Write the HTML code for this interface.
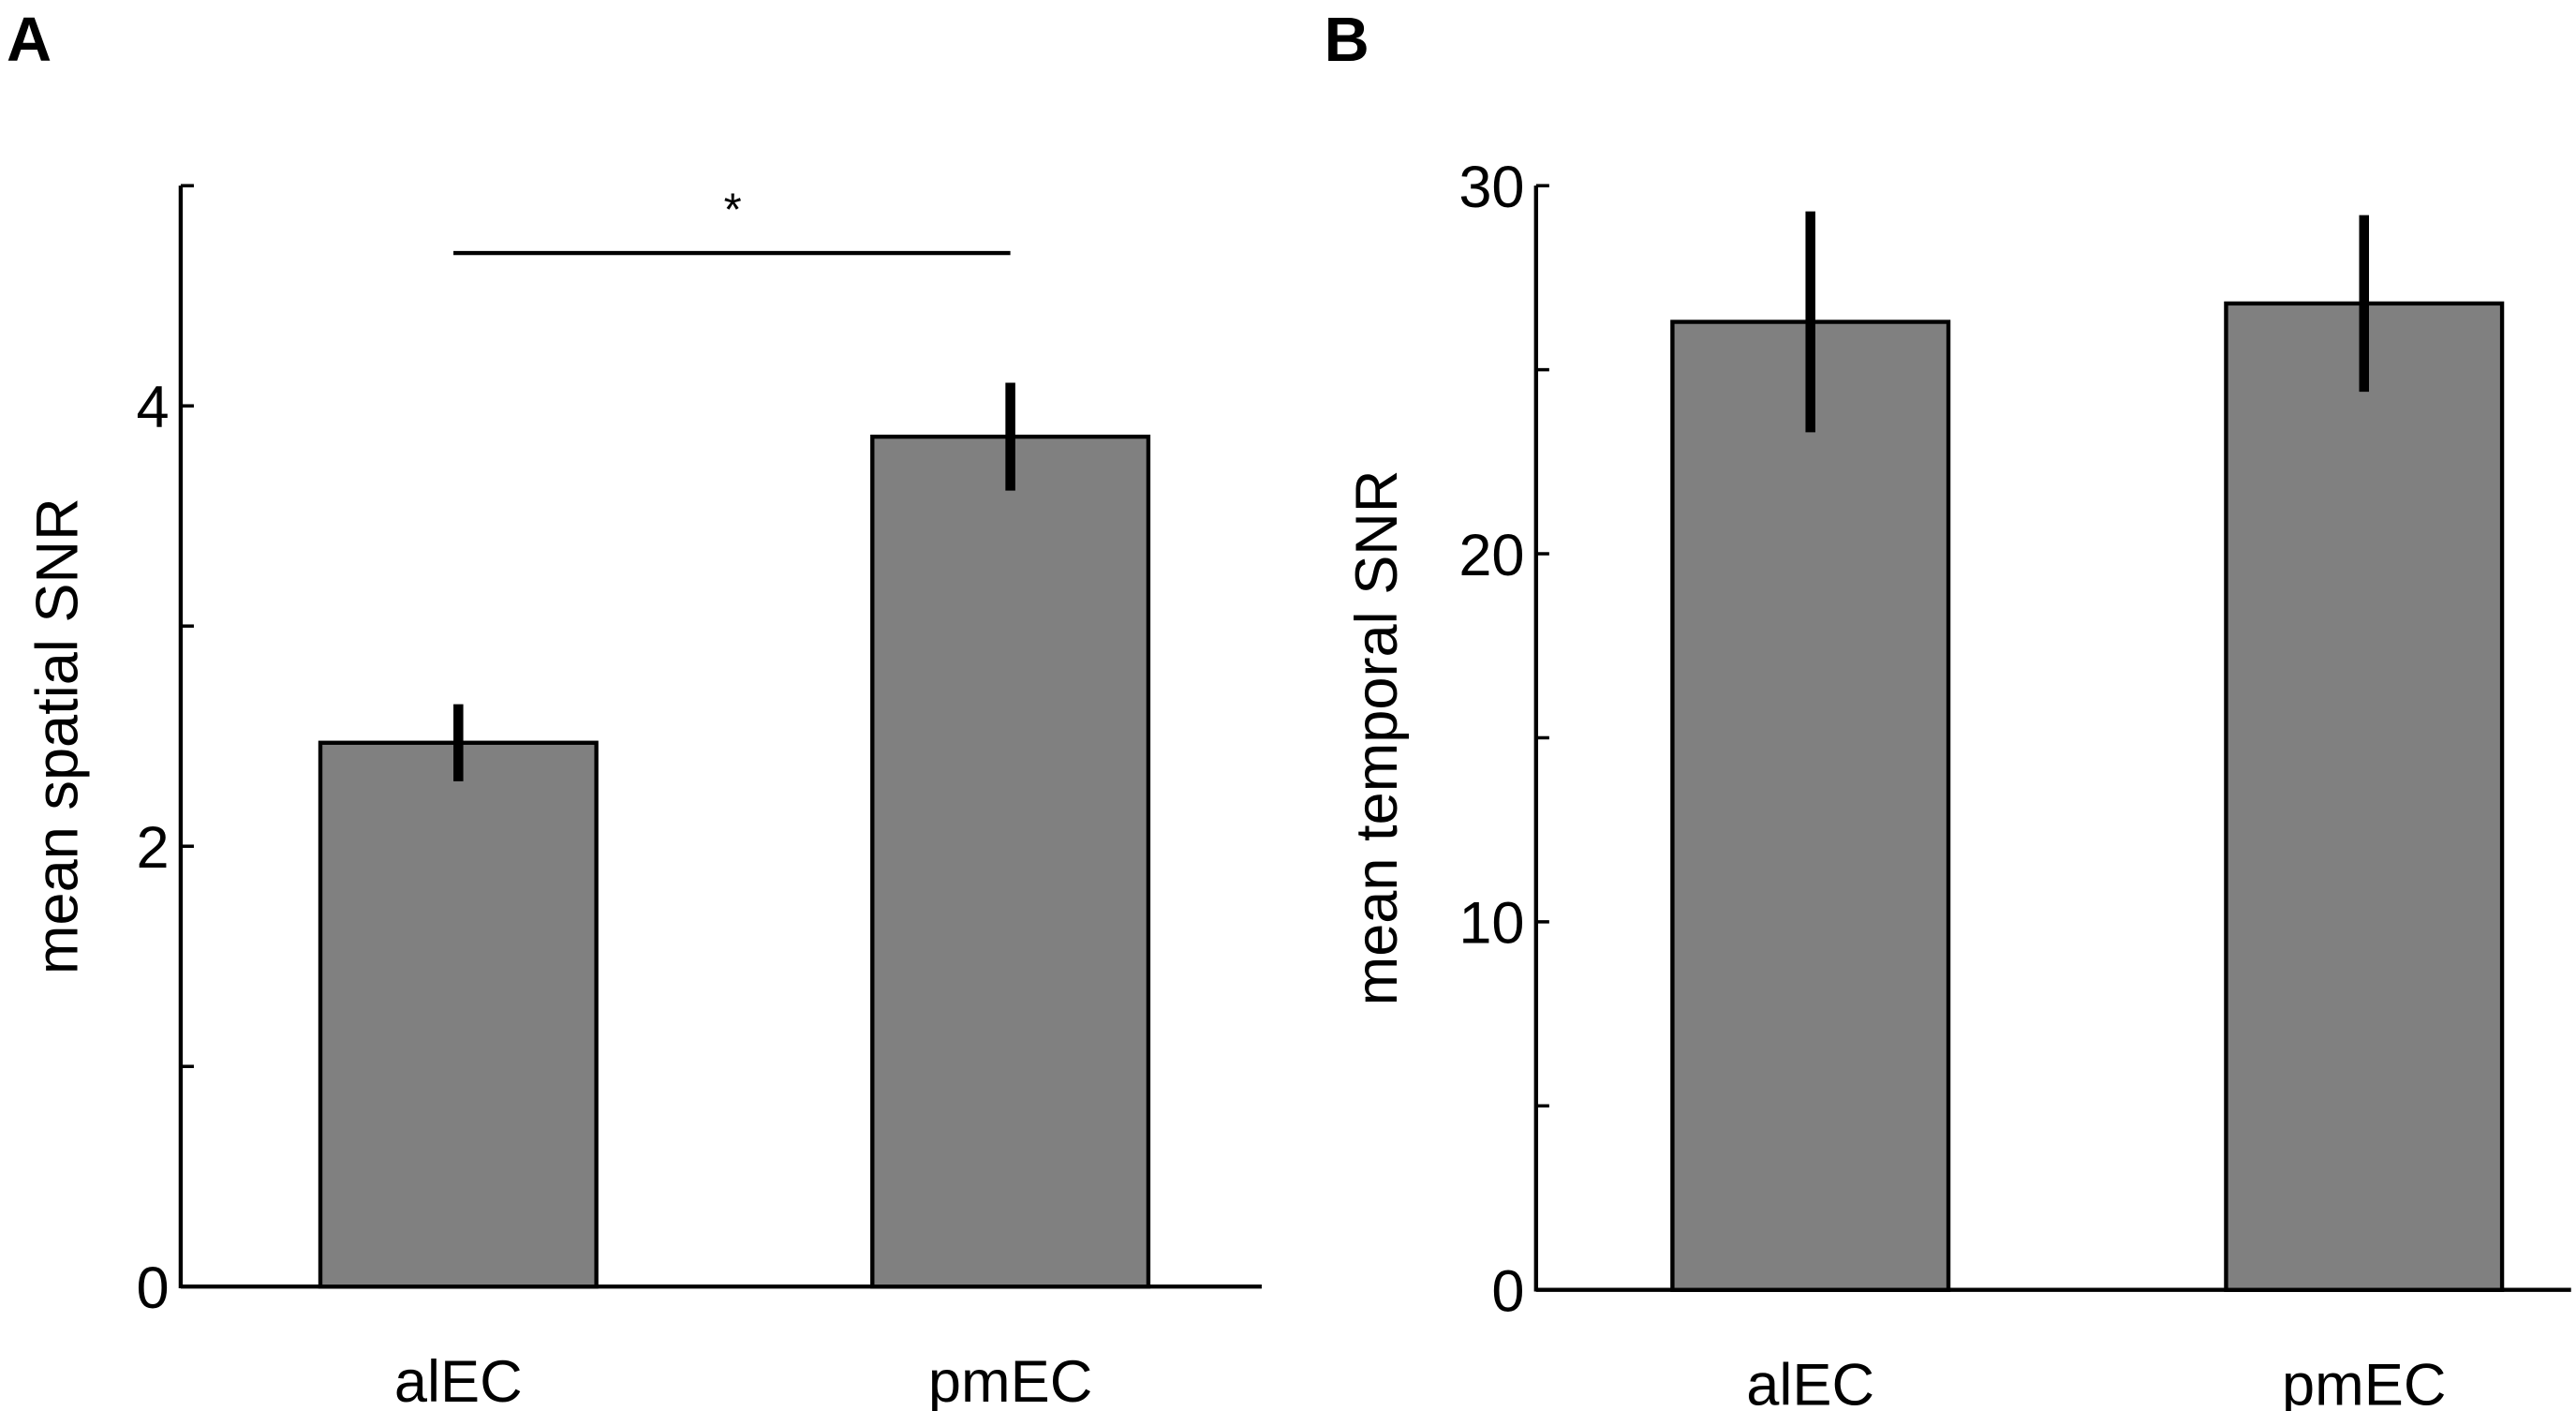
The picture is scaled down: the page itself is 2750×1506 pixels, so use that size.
<!DOCTYPE html>
<html><head><meta charset="utf-8"><style>
html,body{margin:0;padding:0;background:#fff}
svg{display:block}
text{font-family:"Liberation Sans",sans-serif;fill:#000}
</style></head><body>
<svg id="chart" width="2750" height="1506" viewBox="0 0 1568 858.7" preserveAspectRatio="none" xmlns="http://www.w3.org/2000/svg">
<text x="4" y="37" font-size="38" font-weight="bold">A</text>
<text x="806" y="37" font-size="38" font-weight="bold">B</text>
<g id="pa"></g>
<g id="pb"></g>
</svg>
<script>
const categories = ["alEC", "pmEC"];
const spatialValues = [2.47, 3.86];
const spatialErrors = [0.175, 0.245];
const spatialTicks = [0, 2, 4];
const spatialMinorTicks = [1, 3, 5];
const temporalValues = [26.3, 26.8];
const temporalErrors = [3.0, 2.4];
const temporalTicks = [0, 10, 20, 30];
const temporalMinorTicks = [5, 15, 25];
const NS = "http://www.w3.org/2000/svg";
function mk(parent, tag, attrs, text) {
  const e = document.createElementNS(NS, tag);
  for (const k in attrs) e.setAttribute(k, attrs[k]);
  if (text !== undefined) e.textContent = text;
  parent.appendChild(e);
  return e;
}
function panel(g, cfg) {
  const y = v => cfg.y0 - (v - cfg.vmin) / (cfg.vmax - cfg.vmin) * (cfg.y0 - cfg.ytop);
  let el;
  el = mk(g, "line", {x1: cfg.ax, y1: cfg.ytop, x2: cfg.ax, y2: cfg.y0 + 1, stroke: "#000", "stroke-width": 2.5});
  
  
  el = mk(g, "line", {x1: cfg.ax, y1: cfg.y0, x2: cfg.xend, y2: cfg.y0, stroke: "#000", "stroke-width": 2.5});
  
  
  cfg.ticks.forEach(t => {
    el = mk(g, "line", {x1: cfg.ax, y1: y(t), x2: cfg.ax + 8, y2: y(t), stroke: "#000", "stroke-width": 2});
    
    
    el = mk(g, "text", {x: cfg.ax - 7, y: y(t) + 13, "font-size": 36, "text-anchor": "end"}, String(t));
    
    
  });
  cfg.minor.forEach(t => {
    el = mk(g, "line", {x1: cfg.ax, y1: y(t), x2: cfg.ax + 8, y2: y(t), stroke: "#000", "stroke-width": 2});
    
    
  });
  categories.forEach((c, i) => {
    const cx = cfg.cx[i], bw = 168;
    el = mk(g, "rect", {x: cx - bw / 2, y: y(cfg.values[i]), width: bw, height: cfg.y0 - y(cfg.values[i]), fill: "#808080", stroke: "#000", "stroke-width": 2.5});
    
    
    el = mk(g, "line", {x1: cx, y1: y(cfg.values[i] + cfg.errors[i]), x2: cx, y2: y(cfg.values[i] - cfg.errors[i]), stroke: "#000", "stroke-width": 6});
    
    
    el = mk(g, "text", {x: cx, y: cfg.y0 + 70, "font-size": 36, "text-anchor": "middle"}, c);
    
    
  });
  el = mk(g, "text", {x: 0, y: 0, "font-size": 36, "text-anchor": "middle", transform: "translate(" + cfg.tx + "," + ((cfg.ytop + cfg.y0) / 2) + ") rotate(-90)"}, cfg.title);
  
  
  return y;
}
panel(document.getElementById("pa"), {ax: 110, y0: 783, ytop: 113, vmin: 0, vmax: 5, xend: 768, cx: [279, 615], values: spatialValues, errors: spatialErrors, ticks: spatialTicks, minor: spatialMinorTicks, title: "mean spatial SNR", tx: 47});
panel(document.getElementById("pb"), {ax: 935, y0: 785, ytop: 113, vmin: 0, vmax: 30, xend: 1565, cx: [1102, 1439], values: temporalValues, errors: temporalErrors, ticks: temporalTicks, minor: temporalMinorTicks, title: "mean temporal SNR", tx: 850});
const pa = document.getElementById("pa");
let s = mk(pa, "line", {x1: 276, y1: 154, x2: 615, y2: 154, stroke: "#000", "stroke-width": 2.5});


s = mk(pa, "text", {x: 446, y: 137, "font-size": 28, "text-anchor": "middle"}, "*");


</script>
</body></html>
